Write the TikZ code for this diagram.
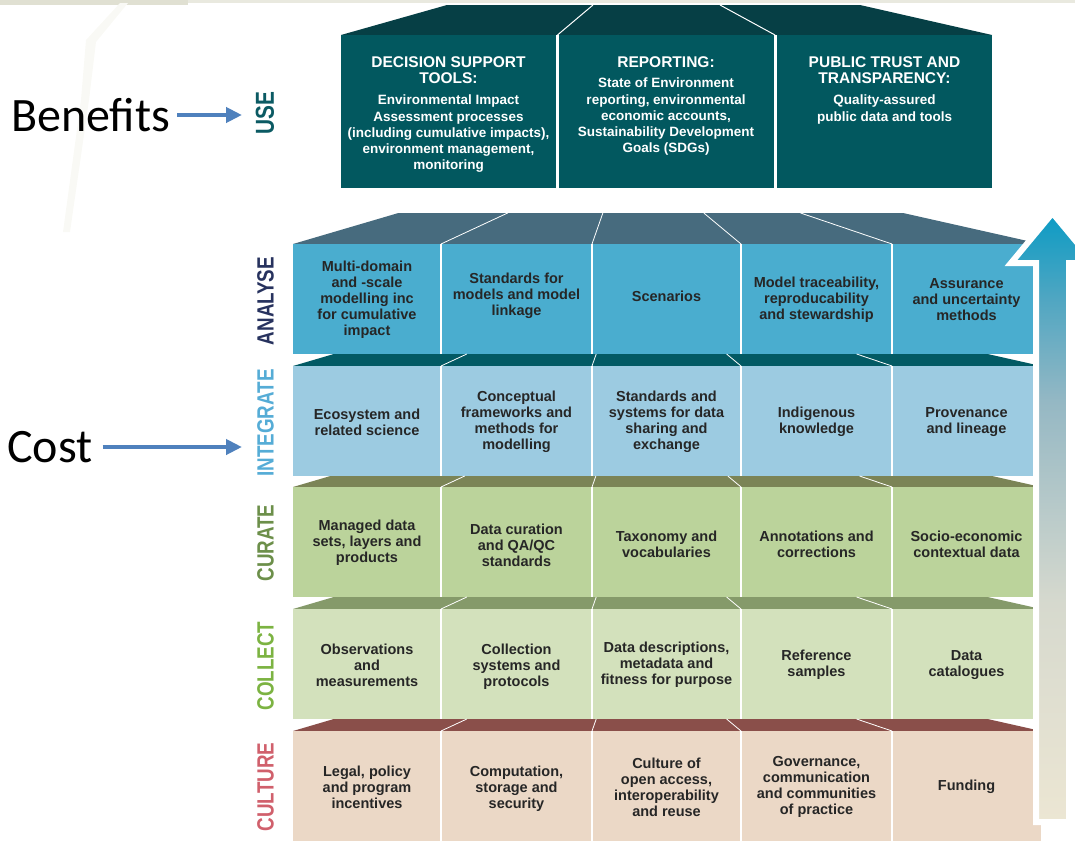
\documentclass[tikz,border=0pt]{standalone}
\usepackage{fontspec}
\setmainfont{Liberation Sans}
\newfontfamily\lblfont[FakeStretch=0.8]{Liberation Sans}
\newfontfamily\calfont{Carlito}
\usetikzlibrary{arrows.meta}
\definecolor{bandcol}{HTML}{E0E0D2}
\definecolor{faintcol}{HTML}{F9F9F5}
\definecolor{usefront}{HTML}{02585F}
\definecolor{usetop}{HTML}{063F45}
\definecolor{anfront}{HTML}{4AADCF}
\definecolor{antop}{HTML}{476B7E}
\definecolor{infront}{HTML}{9CCBE1}
\definecolor{intop}{HTML}{025A64}
\definecolor{cufront}{HTML}{BBD39B}
\definecolor{cutop}{HTML}{7B8456}
\definecolor{cofront}{HTML}{D3E1BC}
\definecolor{cotop}{HTML}{859A6A}
\definecolor{clfront}{HTML}{EBD8C6}
\definecolor{cltop}{HTML}{8A4F4A}
\definecolor{cellgray}{HTML}{262626}
\definecolor{lbluse}{HTML}{0B5A63}
\definecolor{lblan}{HTML}{27325E}
\definecolor{lblin}{HTML}{55ACD6}
\definecolor{lblcu}{HTML}{6C8F4A}
\definecolor{lblco}{HTML}{7CB342}
\definecolor{lblcl}{HTML}{D0606C}
\definecolor{arrblue}{HTML}{4F81BD}
\definecolor{gtop}{HTML}{0B9BC4}
\definecolor{gupmid}{HTML}{4FA6C2}
\definecolor{gmid}{HTML}{95B8C4}
\definecolor{glow}{HTML}{D6D9CE}
\definecolor{gbot}{HTML}{ECE6D3}
\pgfdeclareverticalshading{arrowshade}{100bp}{color(0bp)=(gbot); color(25bp)=(gbot); color(43bp)=(glow); color(59.5bp)=(gmid); color(68bp)=(gupmid); color(75bp)=(gtop); color(100bp)=(gtop)}
\newcommand\drawlayer[4]{%
  \fill[#4] (293,#1) -- ({293+3.4*#2},{#1-#2}) -- ({1041-4.45*#2},{#1-#2}) -- (1041,#1) -- cycle;
  \fill[#3] (293,#1) rectangle (1041,{#1+110});
  \foreach \xx/\kk in {441/2.15,592/0.35,741/-1.2,892/-2.95}{%
    \draw[white,line width=0.8pt] (\xx,#1) -- ({\xx+\kk*#2},{#1-#2});
    \draw[white,line width=2.5pt] (\xx,#1) -- (\xx,{#1+110});
  }%
}
\begin{document}
\begin{tikzpicture}[x=1pt,y=-1pt,
  cell/.style={align=center, inner sep=0pt, text=cellgray, font=\bfseries\fontsize{14.5}{16}\selectfont},
  usehead/.style={align=center, inner sep=0pt, anchor=north, text=white, font=\bfseries\fontsize{15.5}{16}\selectfont},
  usebody/.style={align=center, inner sep=0pt, anchor=north, text=white, font=\bfseries\fontsize{13.5}{16.2}\selectfont},
  lbl/.style={rotate=90, inner sep=0pt, font=\lblfont\bfseries\fontsize{23.5}{23.5}\selectfont},
  side/.style={anchor=west, inner sep=0pt, font=\calfont\fontsize{48}{48}\selectfont},
  bluearrow/.style={draw=arrblue, line width=4pt, -{Triangle[length=16pt,width=15pt]}}
]
\useasboundingbox (0,0) rectangle (1075,854);
% background
\fill[bandcol] (0,0) rectangle (188,5);
\fill[bandcol!70!white] (188,0) rectangle (1075,3);
\fill[faintcol] (120,3) -- (128,3) -- (96,42) -- (89,100) -- (70,232) -- (63,232) -- (81,100) -- (86,40) -- cycle;

% USE block
\fill[usetop] (341,35) -- (447,5) -- (860,5) -- (992,35) -- cycle;
\fill[usefront] (341,35) rectangle (992,188);
\draw[white,line width=1pt] (557.5,35) -- (593,5);
\draw[white,line width=1pt] (775,35) -- (720,5);
\draw[white,line width=3pt] (557.5,35) -- (557.5,188);
\draw[white,line width=3pt] (775,35) -- (775,188);

\node[usehead] (u1h) at (448.5,56.5) {DECISION SUPPORT\\TOOLS:};
\node[usebody] (u1b) at (448.5,95) {Environmental Impact\\Assessment processes\\(including cumulative impacts),\\environment management,\\monitoring};
\node[usehead] (u2h) at (666,56.5) {REPORTING:};
\node[usebody] (u2b) at (666,78) {State of Environment\\reporting, environmental\\economic accounts,\\Sustainability Development\\Goals (SDGs)};
\node[usehead] (u3h) at (884.5,56.5) {PUBLIC TRUST AND\\TRANSPARENCY:};
\node[usebody] (u3b) at (884.5,95) {Quality-assured\\public data and tools};

% layers
\drawlayer{244}{31}{anfront}{antop}
\drawlayer{366}{12}{infront}{intop}
\drawlayer{487}{11}{cufront}{cutop}
\drawlayer{609}{12}{cofront}{cotop}
\drawlayer{731}{12}{clfront}{cltop}

% ANALYSE cells
\node[cell] (a1) at (367,300) {Multi-domain\\and -scale\\modelling inc\\for cumulative\\impact};
\node[cell] (a2) at (516.5,296) {Standards for\\models and model\\linkage};
\node[cell] (a3) at (666.5,296) {Scenarios};
\node[cell] (a4) at (816.5,300) {Model traceability,\\reproducability\\and stewardship};
\node[cell] (a5) at (966.5,300) {Assurance\\and uncertainty\\methods};
% INTEGRATE cells
\node[cell] (i1) at (367,422) {Ecosystem and\\related science};
\node[cell] (i2) at (516.5,422) {Conceptual\\frameworks and\\methods for\\modelling};
\node[cell] (i3) at (666.5,422) {Standards and\\systems for data\\sharing and\\exchange};
\node[cell] (i4) at (816.5,422) {Indigenous\\knowledge};
\node[cell] (i5) at (966.5,422) {Provenance\\and lineage};
% CURATE cells
\node[cell] (c1) at (367,543) {Managed data\\sets, layers and\\products};
\node[cell] (c2) at (516.5,545) {Data curation\\and QA/QC\\standards};
\node[cell] (c3) at (666.5,544) {Taxonomy and\\vocabularies};
\node[cell] (c4) at (816.5,544) {Annotations and\\corrections};
\node[cell] (c5) at (966.5,544) {Socio-economic\\contextual data};
% COLLECT cells
\node[cell] (o1) at (367,665) {Observations\\and\\measurements};
\node[cell] (o2) at (516.5,667) {Collection\\systems and\\protocols};
\node[cell] (o3) at (666.5,665) {Data descriptions,\\metadata and\\fitness for purpose};
\node[cell] (o4) at (816.5,665) {Reference\\samples};
\node[cell] (o5) at (966.5,665) {Data\\catalogues};
% CULTURE cells
\node[cell] (k1) at (367,787) {Legal, policy\\and program\\incentives};
\node[cell] (k2) at (516.5,789) {Computation,\\storage and\\security};
\node[cell] (k3) at (666.5,787) {Culture of\\open access,\\interoperability\\and reuse};
\node[cell] (k4) at (816.5,787) {Governance,\\communication\\and communities\\of practice};
\node[cell] (k5) at (966.5,787) {Funding};

% big gradient arrow
\path[shading=arrowshade, draw=white, line width=6pt, line join=miter]
  (1036,822) -- (1036,263) -- (1011,263) -- (1052.5,213) -- (1094,263) -- (1069,263) -- (1069,822) -- cycle;

% layer labels
\node[lbl, text=lbluse, font=\lblfont\bfseries\fontsize{26}{26}\selectfont] (luse) at (265,113) {USE};
\node[lbl, text=lblan] (lan) at (265.5,301) {ANALYSE};
\node[lbl, text=lblin] (lin) at (265.5,423) {INTEGRATE};
\node[lbl, text=lblcu] (lcu) at (265.5,543) {CURATE};
\node[lbl, text=lblco] (lco) at (265.5,666) {COLLECT};
\node[lbl, text=lblcl] (lcl) at (265.5,787) {CULTURE};

% side texts and arrows
\node[side] (benefits) at (11,115) {Benefits};
\node[side] (cost) at (7,447) {Cost};
\coordinate (useEnd) at (242,115);
\coordinate (costEnd) at (242,447);
\draw[bluearrow, shorten <=7pt] (benefits.east) -- (useEnd);
\draw[bluearrow, shorten <=10pt] (cost.east) -- (costEnd);
\end{tikzpicture}
\end{document}
